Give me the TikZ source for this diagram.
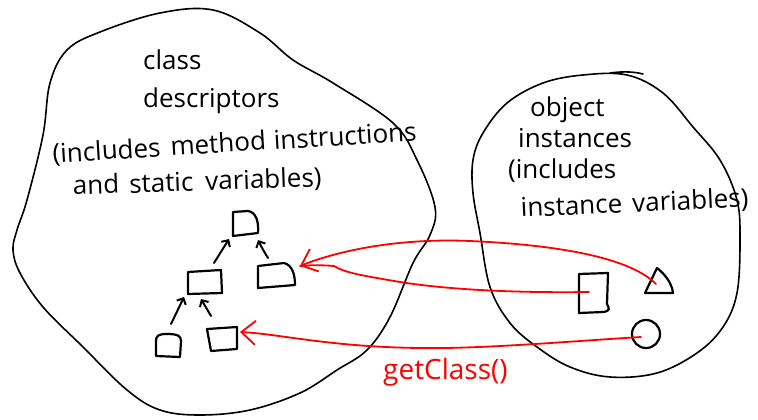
\documentclass[tikz,border=0pt]{standalone}
\usepackage{fontspec}
\setmainfont{Open Sans}
\usetikzlibrary{arrows.meta}
\tikzset{
  blob/.style={line width=1.6pt, line join=round, line cap=round},
  cbox/.style={line width=2.2pt, line join=round, line cap=round},
  hand/.style={font=\fontsize{26}{28}\selectfont, inner sep=0pt, anchor=base west},
  inherit/.style={line width=2pt, line cap=round, -{Straight Barb[length=5pt,width=10pt,line width=2pt]}},
  getref/.style={red, line width=1.8pt, line cap=round},
  getarrow/.style={getref, -{Straight Barb[length=14pt,width=24pt,line width=1.8pt]}}
}
\begin{document}
\begin{tikzpicture}[x=1pt,y=-1pt]
\useasboundingbox (0,0) rectangle (758,420);

% region of class descriptors
\draw[blob] plot[smooth cycle, tension=0.6] coordinates {
  (27,200) (43,135) (50,83) (67,50) (100,32) (160,13) (213,10) (260,33)
  (293,60) (333,83) (393,123) (417,160) (435,207) (430,235) (413,263)
  (390,317) (367,350) (337,370) (300,393) (250,410) (200,415) (160,410)
  (127,390) (83,347) (43,307) (20,273) (13,250) (17,230)};

% region of object instances
\draw[blob] plot[smooth cycle, tension=0.6] coordinates {
  (627,75) (663,93) (693,127) (720,160) (737,200) (740,240) (737,293)
  (723,327) (697,353) (657,373) (610,377) (570,367) (537,347) (510,323)
  (490,287) (480,233) (473,193) (473,160) (483,133) (507,103) (543,83)
  (583,75)};
\draw[blob] (610,73) .. controls (625,71) and (635,72) .. (643,74);

% labels of the class region
\node[hand] (cls1) at (143,70) {class};
\node[hand] (cls2) at (143,107) {descriptors};
\node[hand, rotate=3.5] (cls3) at (53,163) {(includes\hspace{10pt}method\hspace{8pt}instructions};
\node[hand, rotate=2] (cls4) at (73,195) {and\hspace{10pt}static\hspace{12pt}variables)};

% labels of the instance region
\node[hand] (obj1) at (530,116) {object};
\node[hand] (obj2) at (518,147) {instances};
\node[hand] (obj3) at (508,178) {(includes};
\node[hand, rotate=2.5] (obj4) at (521,217) {instance\hspace{10pt}variables)};

% class hierarchy
\draw[cbox] (233,236) -- (233,212) -- (248,211) .. controls (256,212) and (259,222) .. (258,233) -- cycle;
\draw[cbox] (188,272) -- (221,270) -- (222,293) -- (188,294) -- cycle;
\draw[cbox] (258,288) -- (258,266) -- (284,263) .. controls (292,265) and (295,274) .. (295,285) -- cycle;
\draw[cbox] (156,356) -- (156,341) .. controls (156,336) and (158,334) .. (167,334) .. controls (178,334) and (181,336) .. (181,341) -- (180,357) -- cycle;
\draw[cbox] (207,329) -- (237,327) -- (237,349) -- (211,351) -- cycle;

\coordinate (topB) at (229,239);
\coordinate (topBr) at (258,240);
\coordinate (midLt) at (214,263);
\coordinate (midLb) at (184,297);
\coordinate (midLc) at (201,299);
\coordinate (midRt) at (268,258);
\coordinate (botLt) at (171,324);
\coordinate (botMt) at (211,316);

\draw[inherit] (midLt) -- (topB);
\draw[inherit] (midRt) .. controls (263,250) and (260,244) .. (topBr);
\draw[inherit] (botLt) -- (midLb);
\draw[inherit] (botMt) -- (midLc);

% object instances
\draw[cbox] (579,313) -- (579,274) -- (608,273) -- (607,304) .. controls (609,308) and (611,311) .. (603,312) -- cycle;
\draw[cbox] (657,268) -- (645,293) -- (673,293) .. controls (672,284) and (666,275) .. (657,268);
\draw[cbox] (646,334) circle (14);

\coordinate (tri) at (656,284);
\coordinate (inst) at (589,292);
\coordinate (circ) at (641,337);
\coordinate (midR) at (300,266);
\coordinate (botM) at (240,332);

% references from instances to their classes
\draw[getarrow] (tri) .. controls (630,258) and (560,245) .. (470,241) .. controls (400,238) and (340,250) .. (midR);
\draw[getref] (inst) .. controls (520,293) and (450,290) .. (400,282) .. controls (365,276) and (345,273) .. (334,266) .. controls (322,265) and (310,265) .. (midR);
\draw[getarrow] (circ) .. controls (560,342) and (480,349) .. (420,348) .. controls (330,347) and (280,334) .. (botM);

\node[hand, text=red, font=\fontsize{28}{30}\selectfont] (gc) at (383,379) {getClass()};
\end{tikzpicture}
\end{document}
